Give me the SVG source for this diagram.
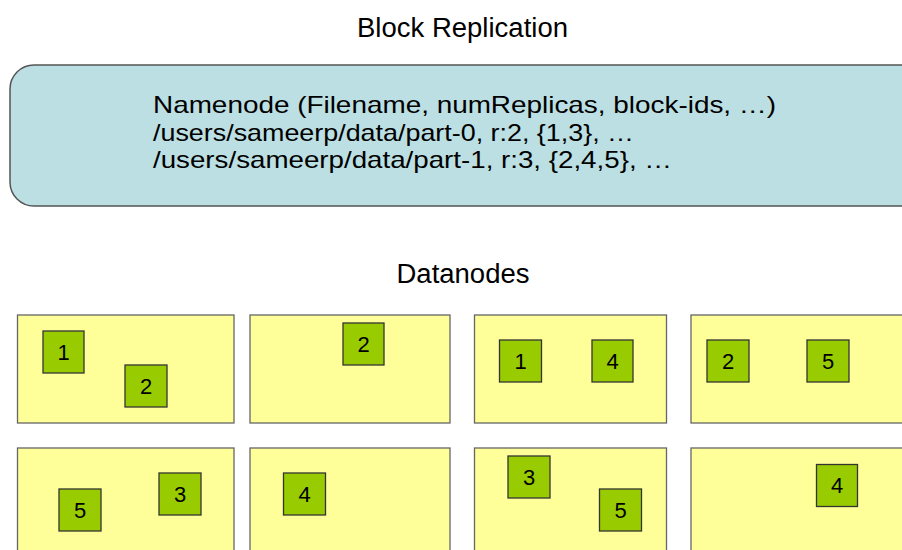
<svg xmlns="http://www.w3.org/2000/svg" width="902" height="550" viewBox="0 0 902 550">
<style>
text{font-family:"Liberation Sans",Arial,sans-serif;fill:#000}
.title{font-size:27px;text-anchor:middle}
.nn{font-size:24px}
.dn{fill:#ffff99;stroke:#666;stroke-width:1.3}
.blk{fill:#99cc00;stroke:#333;stroke-width:1.3}
.num{font-size:22px;text-anchor:middle}
</style>
<rect width="902" height="550" fill="#fff"/>
<text class="title" x="462.5" y="37" textLength="211" lengthAdjust="spacingAndGlyphs">Block Replication</text>
<g id="namenode">
<rect x="10" y="65" width="915" height="141" rx="24" ry="24" fill="#bbdfe2" stroke="#555" stroke-width="1.5"/>
<text class="nn" x="153" y="113" textLength="623" lengthAdjust="spacingAndGlyphs">Namenode (Filename, numReplicas, block-ids, …)</text>
<text class="nn" x="153" y="140.5" textLength="481" lengthAdjust="spacingAndGlyphs">/users/sameerp/data/part-0, r:2, {1,3}, …</text>
<text class="nn" x="153" y="168" textLength="519" lengthAdjust="spacingAndGlyphs">/users/sameerp/data/part-1, r:3, {2,4,5}, …</text>
</g>
<text class="title" x="463" y="283" textLength="133" lengthAdjust="spacingAndGlyphs">Datanodes</text>
<g id="dn1">
<rect class="dn" x="17.5" y="315" width="216.5" height="108"/>
<rect class="blk" x="43" y="331" width="41" height="42"/><text class="num" x="63.5" y="359.5">1</text>
<rect class="blk" x="125" y="365" width="42" height="42"/><text class="num" x="146" y="393.5">2</text>
</g>
<g id="dn2">
<rect class="dn" x="250" y="315" width="200" height="108"/>
<rect class="blk" x="343" y="323" width="41" height="42"/><text class="num" x="363.5" y="351.5">2</text>
</g>
<g id="dn3">
<rect class="dn" x="474.5" y="315" width="192" height="108"/>
<rect class="blk" x="499.5" y="340" width="42" height="42"/><text class="num" x="520.5" y="368.5">1</text>
<rect class="blk" x="592" y="340" width="41" height="42"/><text class="num" x="612.5" y="368.5">4</text>
</g>
<g id="dn4">
<rect class="dn" x="691" y="315" width="230" height="108"/>
<rect class="blk" x="707" y="340" width="42" height="42"/><text class="num" x="728" y="368.5">2</text>
<rect class="blk" x="807" y="340" width="42" height="42"/><text class="num" x="828" y="368.5">5</text>
</g>
<g id="dn5">
<rect class="dn" x="17.5" y="448" width="216.5" height="120"/>
<rect class="blk" x="59" y="489" width="42" height="42"/><text class="num" x="80" y="517.5">5</text>
<rect class="blk" x="159" y="473" width="42" height="42"/><text class="num" x="180" y="501.5">3</text>
</g>
<g id="dn6">
<rect class="dn" x="250" y="448" width="200" height="120"/>
<rect class="blk" x="283.5" y="473" width="42" height="42"/><text class="num" x="304.5" y="501.5">4</text>
</g>
<g id="dn7">
<rect class="dn" x="474.5" y="448" width="192" height="120"/>
<rect class="blk" x="508" y="456" width="42" height="42"/><text class="num" x="529" y="484.5">3</text>
<rect class="blk" x="599.5" y="489" width="42" height="42"/><text class="num" x="620.5" y="517.5">5</text>
</g>
<g id="dn8">
<rect class="dn" x="691" y="448" width="230" height="120"/>
<rect class="blk" x="816.5" y="464.5" width="41" height="42"/><text class="num" x="837" y="493">4</text>
</g>
<g id="connectors"></g>
</svg>
